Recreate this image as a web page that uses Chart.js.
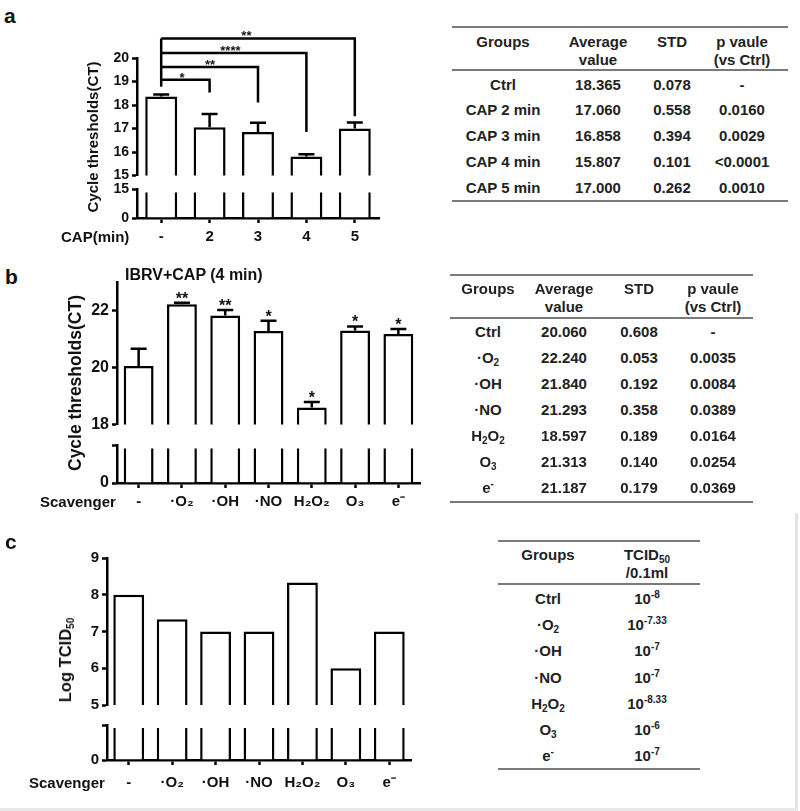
<!DOCTYPE html>
<html>
<head>
<meta charset="utf-8">
<script src="https://cdn.jsdelivr.net/npm/chart.js@4.4.1/dist/chart.umd.min.js"></script>
<style>
  html, body { margin: 0; padding: 0; background: #fff; }
  #fig { position: relative; width: 800px; height: 811px; overflow: hidden;
         font-family: "Liberation Sans", Arial, Helvetica, sans-serif; font-weight: bold; color: #111; }
  #fig canvas { position: absolute; }
  .t { position: absolute; white-space: nowrap; line-height: 18px; font-size: 15px; }
  .c { transform: translate(-50%, -50%); text-align: center; }
  .l { transform: translateY(-50%); }
  .ylab { position: absolute; white-space: nowrap; font-size: 15px; line-height: 18px;
          transform: translate(-50%, -50%) rotate(-90deg); }
  .rule { position: absolute; height: 2px; background: #7a7a7a; }
  .tb { color: #222; }
  sub { font-size: 10px; vertical-align: baseline; position: relative; top: 3px; line-height: 0; }
  sup { font-size: 10px; vertical-align: baseline; position: relative; top: -6px; line-height: 0; }
  .frame { position: absolute; left: 0; top: 513px; width: 795px; height: 295px;
           border-right: 3px solid #e4e4e4; border-bottom: 3px solid #e8e8e8; }
</style>
</head>
<body>
<div id="fig">
  <div class="frame"></div>
</div>
<script>
/* ---------- data ---------- */
// panel a
const capLabels = ['-', '2', '3', '4', '5'];
const capGroups = ['Ctrl', 'CAP 2 min', 'CAP 3 min', 'CAP 4 min', 'CAP 5 min'];
const capCt = [18.365, 17.060, 16.858, 15.807, 17.000];
const capStd = [0.078, 0.558, 0.394, 0.101, 0.262];
const capP = ['-', '0.0160', '0.0029', '<0.0001', '0.0010'];
const capTicks = [15, 16, 17, 18, 19, 20];
// significance brackets from Ctrl (index 0) to bar idx, levels in CT units
const bracketTo = [4, 3, 2, 1];
const bracketTop = [20.83, 20.21, 19.62, 19.08];
const bracketEnd = [17.52, 16.85, 18.11, 18.53];
const bracketStars = ['**', '****', '**', '*'];
const bracketStarAt = [1.76, 1.43, 1.01, 0.43]; // in category-index units
const bracketStart = 18.78;

// panel b
const scavLabels = ['-', '·O₂', '·OH', '·NO', 'H₂O₂', 'O₃', 'e⁻'];
const scavGroups = ['Ctrl', '·O<sub>2</sub>', '·OH', '·NO', 'H<sub>2</sub>O<sub>2</sub>', 'O<sub>3</sub>', 'e<sup>-</sup>'];
const scavCt = [20.060, 22.240, 21.840, 21.293, 18.597, 21.313, 21.187];
const scavStd = [0.608, 0.053, 0.192, 0.358, 0.189, 0.140, 0.179];
const scavP = ['-', '0.0035', '0.0084', '0.0389', '0.0164', '0.0254', '0.0369'];
const scavStars = ['', '**', '**', '*', '*', '*', '*'];
const scavTicks = [18, 20, 22];

// panel c
const logTcid = [8, 7.33, 7, 7, 8.33, 6, 7];
const tcidExp = ['-8', '-7.33', '-7', '-7', '-8.33', '-6', '-7'];
const tcidTicks = [5, 6, 7, 8, 9];

/* ---------- helpers ---------- */
const fig = document.getElementById('fig');
const FONT = '"Liberation Sans", Arial, Helvetica, sans-serif';
const LW = 2.5, YW = 45, XH = 40, PR = 10;
Chart.defaults.font.family = FONT;

function addCanvas(left, top, w, h) {
  const c = document.createElement('canvas');
  c.width = w; c.height = h;
  c.style.left = left + 'px'; c.style.top = top + 'px';
  fig.appendChild(c);
  return c;
}
function addText(html, x, y, cls, size) {
  const d = document.createElement('div');
  d.className = 't ' + cls;
  d.style.left = x + 'px'; d.style.top = y + 'px';
  if (size) d.style.fontSize = size + 'px';
  d.innerHTML = html;
  fig.appendChild(d);
  return d;
}
function addYLabel(html, x, y, size) {
  const d = document.createElement('div');
  d.className = 'ylab';
  d.style.left = x + 'px'; d.style.top = y + 'px';
  if (size) d.style.fontSize = size + 'px';
  d.innerHTML = html;
  fig.appendChild(d);
}
function addRule(x1, x2, y) {
  const d = document.createElement('div');
  d.className = 'rule';
  d.style.left = x1 + 'px'; d.style.width = (x2 - x1) + 'px'; d.style.top = (y - 1) + 'px';
  fig.appendChild(d);
}

// error bars (+SD only) and optional stars above them
function errorPlugin(std, stars) {
  return {
    id: 'errbars',
    afterDatasetsDraw(chart) {
      const ctx = chart.ctx, y = chart.scales.y;
      const meta = chart.getDatasetMeta(0);
      const vals = chart.data.datasets[0].data;
      ctx.save();
      ctx.strokeStyle = '#000'; ctx.lineWidth = LW; ctx.lineCap = 'butt';
      meta.data.forEach((bar, i) => {
        const top = y.getPixelForValue(vals[i] + std[i]);
        ctx.beginPath();
        ctx.moveTo(bar.x, bar.y); ctx.lineTo(bar.x, top);
        ctx.moveTo(bar.x - 8, top); ctx.lineTo(bar.x + 8, top);
        ctx.stroke();
        if (stars && stars[i]) {
          ctx.fillStyle = '#111';
          ctx.font = 'bold 16px ' + FONT;
          ctx.textAlign = 'center'; ctx.textBaseline = 'alphabetic';
          ctx.fillText(stars[i], bar.x, top + 1);
        }
      });
      ctx.restore();
    }
  };
}

const bracketPlugin = {
  id: 'brackets',
  afterDraw(chart) {
    const ctx = chart.ctx, y = chart.scales.y;
    const meta = chart.getDatasetMeta(0);
    const x0 = meta.data[0].x;
    const step = meta.data[1].x - x0;
    ctx.save();
    ctx.strokeStyle = '#000'; ctx.lineWidth = LW; ctx.lineJoin = 'miter';
    ctx.beginPath();
    ctx.moveTo(x0, y.getPixelForValue(bracketStart));
    ctx.lineTo(x0, y.getPixelForValue(Math.max(...bracketTop)));
    ctx.stroke();
    ctx.fillStyle = '#111';
    ctx.font = 'bold 13px ' + FONT;
    ctx.textAlign = 'center'; ctx.textBaseline = 'alphabetic';
    bracketTo.forEach((idx, k) => {
      const x1 = meta.data[idx].x;
      const yt = y.getPixelForValue(bracketTop[k]);
      ctx.beginPath();
      ctx.moveTo(x0, yt); ctx.lineTo(x1, yt); ctx.lineTo(x1, y.getPixelForValue(bracketEnd[k]));
      ctx.stroke();
      ctx.fillText(bracketStars[k], x0 + bracketStarAt[k] * step, yt + 2);
    });
    ctx.restore();
  }
};

function yScale(min, max, ticks, size, labelFn) {
  return {
    min, max,
    afterFit: s => { s.width = YW; },
    afterBuildTicks: s => { s.ticks = ticks.map(v => ({ value: v })); },
    grid: { drawOnChartArea: false, tickLength: 5, tickWidth: LW, tickColor: '#000' },
    border: { color: '#000', width: LW },
    ticks: { color: '#111', padding: 3, font: { size, weight: 'bold' },
             callback: labelFn || (v => String(v)) },
    z: 1
  };
}

function dataset(values, bp, clipTop) {
  return { data: values, backgroundColor: '#fff', borderColor: '#000', borderWidth: LW,
           borderSkipped: 'bottom', barPercentage: bp, categoryPercentage: 1,
           clip: { left: 0, right: 0, bottom: 0, top: clipTop } };
}

// a broken-axis bar chart = an upper chart (zoomed range) + a lower chart (from 0)
function brokenBars(p) {
  const w = YW + p.plotW + PR;
  const upH = p.upBot - p.upTop;
  const cU = addCanvas(p.axisX - YW, p.upTop - p.padTop, w, p.padTop + upH + 10);
  new Chart(cU, {
    type: 'bar',
    data: { labels: p.labels, datasets: [dataset(p.values, p.bp, 0)] },
    options: {
      responsive: false, animation: false, devicePixelRatio: 1,
      layout: { autoPadding: false, padding: { top: p.padTop, bottom: 10, left: 0, right: PR } },
      plugins: { legend: { display: false }, tooltip: { enabled: false } },
      scales: {
        x: { display: false, offset: true },
        y: yScale(p.upMin, p.upMax, p.upTicks, p.tickSize)
      }
    },
    plugins: p.plugins
  });

  const lowH = p.axisY - p.lowTop;
  const cL = addCanvas(p.axisX - YW, p.lowTop - 10, w, 10 + lowH + XH);
  new Chart(cL, {
    type: 'bar',
    data: { labels: p.labels, datasets: [dataset(p.values, p.bp, -3)] },
    options: {
      responsive: false, animation: false, devicePixelRatio: 1,
      layout: { autoPadding: false, padding: { top: 10, bottom: 0, left: 0, right: PR } },
      plugins: { legend: { display: false }, tooltip: { enabled: false } },
      scales: {
        x: {
          offset: true,
          afterFit: s => { s.height = XH; },
          grid: { offset: false, drawOnChartArea: false, tickLength: 5, tickWidth: LW, tickColor: '#000' },
          border: { color: '#000', width: LW },
          ticks: { color: '#111', padding: p.labelPad, maxRotation: 0, autoSkip: false,
                   font: { size: 15, weight: 'bold' } },
          z: 1
        },
        y: yScale(0, p.upMin, [0, p.upMin], p.tickSize, v => (v === 0 ? '0' : p.lowTopLabel))
      }
    }
  });
}

/* ---------- panel a ---------- */
brokenBars({
  labels: capLabels, values: capCt, bp: 0.66, tickSize: 14,
  axisX: 137, plotW: 242, upTop: 58, upBot: 177, upMin: 15, upMax: 20, upTicks: capTicks,
  padTop: 36, lowTop: 188, axisY: 218, lowTopLabel: '15', labelPad: 5,
  plugins: [errorPlugin(capStd), bracketPlugin]
});
addText('a', 4, 16, 'l', 21);
addYLabel('Cycle thresholds(CT)', 93, 137, 15);
addText('CAP(min)', 61, 237, 'l');

/* ---------- panel b ---------- */
brokenBars({
  labels: scavLabels, values: scavCt, bp: 0.69, tickSize: 16,
  axisX: 117, plotW: 303, upTop: 280, upBot: 427, upMin: 18, upMax: 23, upTicks: scavTicks,
  padTop: 10, lowTop: 443, axisY: 483, lowTopLabel: '', labelPad: 5,
  plugins: [errorPlugin(scavStd, scavStars)]
});
addText('b', 5, 277, 'l', 21);
addText('IBRV+CAP (4 min)', 125, 275, 'l', 16);
addYLabel('Cycle thresholds(CT)', 75, 383, 17.5);
addText('Scavenger', 40, 502, 'l');

/* ---------- panel c ---------- */
brokenBars({
  labels: scavLabels, values: logTcid, bp: 0.71, tickSize: 15,
  axisX: 107, plotW: 304, upTop: 556, upBot: 707, upMin: 5, upMax: 9, upTicks: tcidTicks,
  padTop: 10, lowTop: 723, axisY: 760, lowTopLabel: '', labelPad: 9,
  plugins: []
});
addText('c', 5, 542, 'l', 21);
addYLabel('Log TCID<sub>50</sub>', 65, 660, 16.5);
addText('Scavenger', 29, 783, 'l');

/* ---------- tables ---------- */
function table(t) {
  addRule(t.x1, t.x2, t.top);
  addRule(t.x1, t.x2, t.mid);
  addRule(t.x1, t.x2, t.bot);
  t.head.forEach((h, j) => {
    h.forEach((line, k) => {
      addText(line, t.cols[j], t.headY[k], 'c tb');
    });
  });
  t.rows.forEach((row, i) => {
    row.forEach((cell, j) => {
      addText(cell, t.cols[j], t.rowY + i * t.step, 'c tb');
    });
  });
}

table({
  x1: 452, x2: 788, top: 27, mid: 70, bot: 201,
  cols: [503, 598, 672, 742], headY: [42, 60],
  head: [['Groups'], ['Average', 'value'], ['STD'], ['p vaule', '(vs Ctrl)']],
  rowY: 84.5, step: 25.9,
  rows: capGroups.map((g, i) => [g, capCt[i].toFixed(3), capStd[i].toFixed(3), capP[i]])
});

table({
  x1: 450, x2: 753, top: 275, mid: 318, bot: 502,
  cols: [488, 564, 639, 713], headY: [289, 307],
  head: [['Groups'], ['Average', 'value'], ['STD'], ['p vaule', '(vs Ctrl)']],
  rowY: 332, step: 26,
  rows: scavGroups.map((g, i) => [g, scavCt[i].toFixed(3), scavStd[i].toFixed(3), scavP[i]])
});

table({
  x1: 498, x2: 700, top: 541, mid: 584, bot: 769,
  cols: [548, 647], headY: [555, 573],
  head: [['Groups'], ['TCID<sub>50</sub>', '/0.1ml']],
  rowY: 599, step: 26.2,
  rows: scavGroups.map((g, i) => [g, '10<sup>' + tcidExp[i] + '</sup>'])
});
</script>
</body>
</html>
